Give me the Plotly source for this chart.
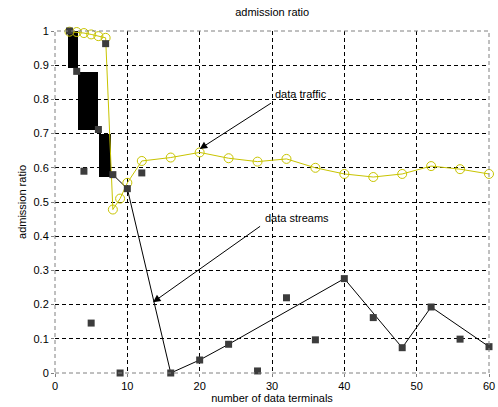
import plotly.graph_objects as go

# data traffic admission ratio (yellow, open circles)
traffic_x = [2, 3, 4, 5, 6, 7, 8, 9, 10, 12, 16, 20, 24, 28, 32, 36, 40, 44, 48, 52, 56, 60]
traffic_y = [0.998, 0.997, 0.994, 0.99, 0.985, 0.98, 0.478, 0.51, 0.556, 0.62, 0.63, 0.645,
             0.628, 0.618, 0.626, 0.60, 0.582, 0.573, 0.582, 0.605, 0.596, 0.582]

# data streams admission ratio (dark squares)
streams_x = [2, 3, 4, 5, 6, 7, 8, 9, 10, 12, 16, 20, 24, 28, 32, 36, 40, 44, 48, 52, 56, 60]
streams_y = [1.0, 0.882, 0.59, 0.146, 0.712, 0.963, 0.58, 0.0, 0.539, 0.585, 0.0, 0.038,
             0.084, 0.006, 0.22, 0.097, 0.276, 0.162, 0.074, 0.193, 0.099, 0.077]

# connected data streams curve
streams_line_x = [8, 10, 16, 20, 24, 40, 48, 52, 60]
streams_line_y = [0.58, 0.539, 0.0, 0.038, 0.084, 0.276, 0.074, 0.193, 0.077]

# solid black blocks at small terminal counts
block_left = [1.76, 3.2, 6.1]
block_right = [3.15, 5.93, 7.78]
block_bottom = [0.891, 0.71, 0.574]
block_top = [1.0, 0.88, 0.70]

x_ticks = [0, 10, 20, 30, 40, 50, 60]
y_ticks = [0, 0.1, 0.2, 0.3, 0.4, 0.5, 0.6, 0.7, 0.8, 0.9, 1]

YELLOW = "#c8c400"
FONT = "Liberation Sans, Arial, sans-serif"

fig = go.Figure()

fig.add_trace(go.Bar(
    x=[(a + b) / 2 for a, b in zip(block_left, block_right)],
    width=[b - a for a, b in zip(block_left, block_right)],
    base=block_bottom,
    y=[t - b for t, b in zip(block_top, block_bottom)],
    marker=dict(color="black", line=dict(width=0)),
    showlegend=False, hoverinfo="skip",
))

fig.add_trace(go.Scatter(
    x=streams_line_x, y=streams_line_y, mode="lines",
    line=dict(color="black", width=1), showlegend=False, cliponaxis=False,
))

fig.add_trace(go.Scatter(
    x=traffic_x, y=traffic_y, mode="lines+markers",
    line=dict(color=YELLOW, width=1),
    marker=dict(symbol="circle-open", size=9, color=YELLOW, line=dict(width=1, color=YELLOW)),
    showlegend=False, cliponaxis=False,
))

fig.add_trace(go.Scatter(
    x=streams_x, y=streams_y, mode="markers",
    marker=dict(symbol="square", size=7, color="#3c3c3c", line=dict(width=0)),
    showlegend=False, cliponaxis=False,
))

# plot box
fig.add_shape(type="rect", xref="x domain", yref="y domain", x0=0, x1=1, y0=0, y1=1,
              line=dict(color="#808080", width=1, dash="4px,3px"), layer="above")

# arrows and labels
fig.add_annotation(x=20, y=0.655, ax=30.08, ay=0.792, xref="x", yref="y", axref="x", ayref="y",
                   text="", showarrow=True, arrowhead=2, arrowsize=1.5, arrowwidth=1, arrowcolor="black")
fig.add_annotation(x=30.15, y=0.815, xref="x", yref="y", text="data traffic", showarrow=False,
                   xanchor="left", yanchor="middle", font=dict(family=FONT, size=11, color="black"))
fig.add_annotation(x=13.55, y=0.207, ax=28.56, ay=0.432, xref="x", yref="y", axref="x", ayref="y",
                   text="", showarrow=True, arrowhead=2, arrowsize=1.5, arrowwidth=1, arrowcolor="black")
fig.add_annotation(x=28.8, y=0.454, xref="x", yref="y", text="data streams", showarrow=False,
                   xanchor="left", yanchor="middle", font=dict(family=FONT, size=11, color="black"))

axis_common = dict(
    showgrid=True, gridcolor="black", gridwidth=1, griddash="4px,3px",
    zeroline=False, showline=False, automargin=False,
    ticks="outside", ticklen=3, tickcolor="#808080",
    tickfont=dict(family=FONT, size=11, color="black"),
)

fig.update_xaxes(range=[0, 60], tickvals=x_ticks, ticktext=[str(v) for v in x_ticks],
                 title=dict(text="number of data terminals", font=dict(family=FONT, size=11, color="black"),
                            standoff=3),
                 **axis_common)
fig.update_yaxes(range=[0, 1], tickvals=y_ticks, ticktext=[f"{v:g}" for v in y_ticks],
                 title=dict(text="admission ratio", font=dict(family=FONT, size=11, color="black"),
                            standoff=4),
                 **axis_common)

fig.update_layout(
    width=498, height=407,
    margin=dict(l=55, r=9, t=31, b=34),
    paper_bgcolor="white", plot_bgcolor="white",
    barmode="overlay", bargap=0,
    title=dict(text="admission ratio", x=0.5465, xanchor="center", y=0.97, yanchor="middle",
               font=dict(family=FONT, size=11, color="black")),
    font=dict(family=FONT, size=11, color="black"),
)

fig.write_html("out.html")
